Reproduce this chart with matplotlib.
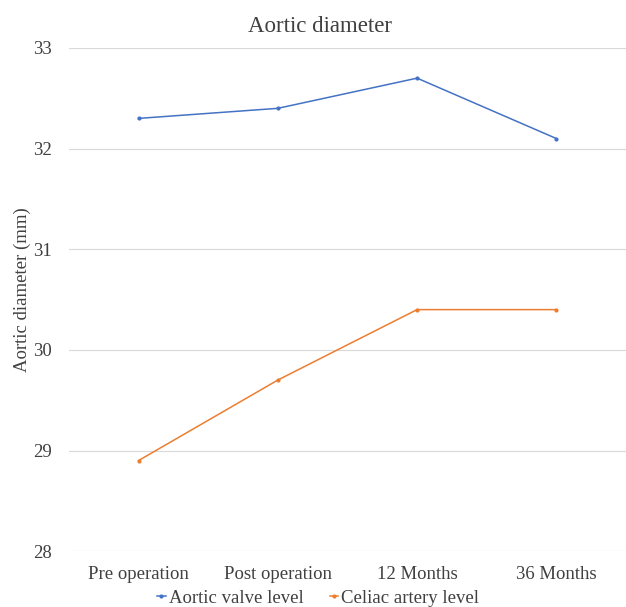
import matplotlib.pyplot as plt

# Aortic diameter at each follow-up point (mm)
timepoints = ['Pre operation', 'Post operation', '12 Months', '36 Months']
aortic_valve = [32.3, 32.4, 32.7, 32.1]
celiac_artery = [28.9, 29.7, 30.4, 30.4]

plt.rcParams['font.family'] = ['Liberation Serif', 'DejaVu Serif']
text_color = '#404040'

fig = plt.figure(figsize=(6.26, 6.07), dpi=100)
ax = fig.add_axes([0.110, 0.092, 0.890, 0.829])

x = range(len(timepoints))
ax.plot(x, aortic_valve, color='#4472C4', lw=1.1, marker='o', ms=2.0,
        label='Aortic valve level')
ax.plot(x, celiac_artery, color='#ED7D31', lw=1.1, marker='o', ms=2.0,
        label='Celiac artery level')

ax.set_xlim(-0.5, 3.5)
ax.set_ylim(28, 33)
ax.set_yticks(range(28, 34))
ax.set_xticks(list(x))
ax.set_xticklabels(timepoints)
ax.tick_params(length=0, labelsize=13.5, colors=text_color)
ax.tick_params(axis='y', pad=12)
ax.tick_params(axis='x', pad=11)
ax.grid(axis='y', color='#D9D9D9', lw=0.8)
ax.set_axisbelow(True)
for s in ax.spines.values():
    s.set_visible(False)

fig.text(0.511, 1 - 32 / 607, 'Aortic diameter', fontsize=16.5,
         color=text_color, ha='center', va='baseline')
ax.set_ylabel('Aortic diameter (mm)', fontsize=13.5, color=text_color)
ax.yaxis.set_label_coords(-0.068, 0.519)

fig.legend(loc='lower center', bbox_to_anchor=(0.508, 0.0), ncol=2,
           frameon=False, fontsize=13.5, handlelength=0.45, handletextpad=0.15,
           columnspacing=1.4, borderpad=0, borderaxespad=0,
           labelcolor=text_color)

fig.savefig('out.png', dpi=100)
